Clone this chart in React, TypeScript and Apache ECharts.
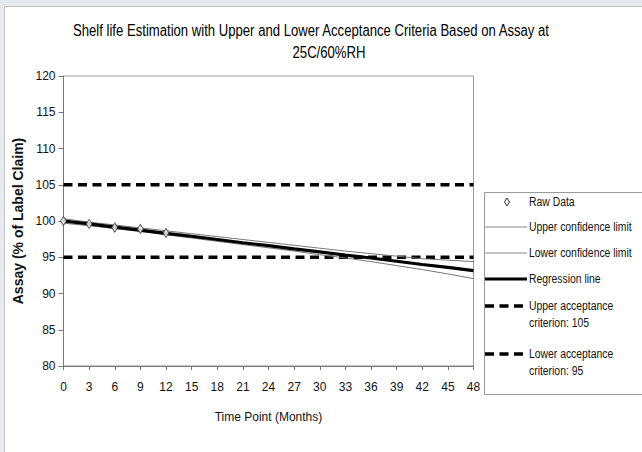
import React, { useEffect, useRef } from "react";
import * as echarts from "echarts";

const months = [0, 3, 6, 9, 12, 15, 18, 21, 24, 27, 30, 33, 36, 39, 42, 45, 48];
const xTicks = ["0", "3", "6", "9", "12", "15", "18", "21", "24", "27", "30", "33", "36", "39", "42", "45", "48"];
const rawMonths = [0, 3, 6, 9, 12];
const rawAssay = [100.0, 99.6, 99.1, 98.9, 98.35];
const regression = [100.0, 99.6, 99.15, 98.75, 98.3, 97.9, 97.45, 97.0, 96.6, 96.15, 95.75, 95.3, 94.9, 94.45, 94.0, 93.6, 93.15];
const upperCL = [100.3, 99.85, 99.45, 99.05, 98.65, 98.25, 97.85, 97.45, 97.05, 96.65, 96.25, 95.85, 95.5, 95.15, 94.8, 94.6, 94.4];
const lowerCL = [99.7, 99.35, 98.95, 98.55, 98.1, 97.65, 97.2, 96.75, 96.3, 95.85, 95.35, 94.9, 94.4, 93.85, 93.3, 92.7, 92.05];
const criterionMonths = [0, 48];
const upperCriterion = [105, 105];
const lowerCriterion = [95, 95];

const titleLine1 = "Shelf life Estimation with Upper and Lower Acceptance Criteria Based on Assay at";
const titleLine2 = "25C/60%RH";
const legendNames = [
  "Raw Data",
  "Upper confidence limit",
  "Lower confidence limit",
  "Regression line",
  "Upper acceptance\ncriterion: 105",
  "Lower acceptance\ncriterion: 95",
];

const ARIAL = '"Liberation Sans", Arial, sans-serif';
const SQUEEZE = 0.8;

const pairs = (xs: number[], ys: number[]) => xs.map((x, i) => [x, ys[i]]);

export default function App() {
  const ref = useRef<HTMLDivElement>(null);
  useEffect(() => {
    document.body.style.margin = "0";
    const chart = echarts.init(ref.current!, null, { renderer: "svg" });
    const legX = 485;
    const textX = 529;
    const ys = [202, 227, 253, 279, 306, 354];
    const legendGraphics: any[] = [
      {
        type: "rect",
        shape: { x: 484.5, y: 192.5, width: 170, height: 202 },
        style: { fill: "#fff", stroke: "#9a9a9a", lineWidth: 1 },
        z: 10,
      },
      {
        type: "polygon",
        shape: { points: [[507, 198], [509.5, 202], [507, 206], [504.5, 202]] },
        style: { fill: "#fff", stroke: "#333", lineWidth: 1 },
        z: 11,
      },
      { type: "line", shape: { x1: legX, y1: ys[1], x2: 527, y2: ys[1] }, style: { stroke: "#888", lineWidth: 1 }, z: 11 },
      { type: "line", shape: { x1: legX, y1: ys[2], x2: 527, y2: ys[2] }, style: { stroke: "#888", lineWidth: 1 }, z: 11 },
      { type: "line", shape: { x1: legX, y1: ys[3], x2: 527, y2: ys[3] }, style: { stroke: "#000", lineWidth: 3 }, z: 11 },
      { type: "line", shape: { x1: legX, y1: ys[4], x2: 527, y2: ys[4] }, style: { stroke: "#000", lineWidth: 3.5, lineDash: [9, 5.5] }, z: 11 },
      { type: "line", shape: { x1: legX, y1: ys[5], x2: 527, y2: ys[5] }, style: { stroke: "#000", lineWidth: 3.5, lineDash: [9, 5.5] }, z: 11 },
    ];
    legendNames.forEach((name, i) => {
      const lines = name.split("\n");
      lines.forEach((ln, j) => {
        legendGraphics.push({
          type: "text",
          x: textX,
          y: ys[i] + j * 17,
          scaleX: 0.77,
          style: { text: ln, font: `13.5px ${ARIAL}`, fill: "#111", align: "left", verticalAlign: "middle" },
          z: 11,
        });
      });
    });

    chart.setOption({
      animation: false,
      backgroundColor: "#e6e9ee",
      graphic: [
        {
          type: "rect",
          shape: { x: 4.5, y: 6.5, width: 640, height: 450 },
          style: { fill: "#ffffff", stroke: "#c4c4c4", lineWidth: 1 },
          z: -10,
        },
        {
          type: "text",
          x: 311,
          y: 31,
          scaleX: 0.82,
          style: { text: titleLine1, font: `16px ${ARIAL}`, fill: "#000", align: "center", verticalAlign: "middle" },
        },
        {
          type: "text",
          x: 329,
          y: 53,
          scaleX: 0.82,
          style: { text: titleLine2, font: `16px ${ARIAL}`, fill: "#000", align: "center", verticalAlign: "middle" },
        },
        ...legendGraphics,
      ],
      grid: {
        left: 63.5,
        top: 76,
        width: 410,
        height: 290,
        show: true,
        borderColor: "#999",
        borderWidth: 1,
        backgroundColor: "transparent",
      },
      xAxis: {
        type: "value",
        min: 0,
        max: 48,
        interval: 3,
        name: "Time Point (Months)",
        nameLocation: "middle",
        nameGap: 45,
        nameTextStyle: { fontFamily: ARIAL, fontSize: 12, color: "#111" },
        axisLine: { lineStyle: { color: "#777", width: 1 } },
        axisTick: { show: true, length: 4, lineStyle: { color: "#777" } },
        axisLabel: {
          margin: 15,
          fontFamily: ARIAL,
          fontSize: 12,
          color: "#111",
          formatter: (v: number) => xTicks[months.indexOf(v)] ?? String(v),
        },
        splitLine: { show: false },
      },
      yAxis: {
        type: "value",
        min: 80,
        max: 120,
        interval: 5,
        name: "Assay (% of Label Claim)",
        nameLocation: "middle",
        nameGap: 29,
        nameTextStyle: { fontFamily: ARIAL, fontSize: 14, fontWeight: "bold", color: "#111" },
        axisLine: { show: true, lineStyle: { color: "#777", width: 1 } },
        axisTick: { show: true, length: 5, lineStyle: { color: "#777" } },
        axisLabel: { margin: 8, fontFamily: ARIAL, fontSize: 12, color: "#111" },
        splitLine: { show: false },
      },
      series: [
        {
          name: "Upper acceptance criterion: 105",
          type: "line",
          data: pairs(criterionMonths, upperCriterion),
          symbol: "none",
          lineStyle: { color: "#000", width: 3.5, type: [9, 5.5] },
          z: 2,
        },
        {
          name: "Lower acceptance criterion: 95",
          type: "line",
          data: pairs(criterionMonths, lowerCriterion),
          symbol: "none",
          lineStyle: { color: "#000", width: 3.5, type: [9, 5.5] },
          z: 2,
        },
        {
          name: "Upper confidence limit",
          type: "line",
          data: pairs(months, upperCL),
          symbol: "none",
          lineStyle: { color: "#777", width: 1 },
          z: 3,
        },
        {
          name: "Lower confidence limit",
          type: "line",
          data: pairs(months, lowerCL),
          symbol: "none",
          lineStyle: { color: "#777", width: 1 },
          z: 3,
        },
        {
          name: "Regression line",
          type: "line",
          data: pairs(months, regression),
          symbol: "none",
          lineStyle: { color: "#000", width: 3.2 },
          z: 4,
        },
        {
          name: "Raw Data",
          type: "scatter",
          data: pairs(rawMonths, rawAssay),
          symbol: "diamond",
          symbolSize: [6, 9],
          itemStyle: { color: "#fff", borderColor: "#333", borderWidth: 1 },
          z: 5,
        },
      ],
    });
    return () => chart.dispose();
  }, []);
  return <div ref={ref} style={{ width: 642, height: 452 }} />;
}
